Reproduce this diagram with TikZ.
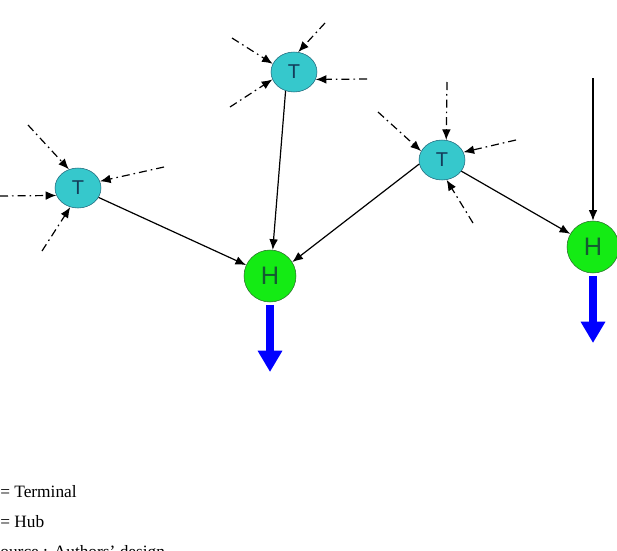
\documentclass[tikz,border=0pt]{standalone}
\usepackage{fontspec}
\setmainfont{Liberation Serif}
\newfontfamily\letterfont{Liberation Sans}
\usetikzlibrary{arrows.meta,shapes.geometric}

\definecolor{termfill}{RGB}{54,200,204}
\definecolor{termline}{RGB}{30,100,120}
\definecolor{termtext}{RGB}{20,60,90}
\definecolor{hubfill}{RGB}{20,235,20}
\definecolor{hubline}{RGB}{40,110,40}
\definecolor{hubtext}{RGB}{20,90,50}

\begin{document}
\begin{tikzpicture}[x=0.75pt,y=-0.75pt,
    terminal/.style={ellipse, draw=termline, fill=termfill, thin, inner sep=0pt,
        minimum width=34.5pt, minimum height=30pt, text=termtext, font=\letterfont\fontsize{15}{15}\selectfont},
    hub/.style={circle, draw=hubline, fill=hubfill, thin, inner sep=0pt,
        minimum size=39pt, text=hubtext, font=\letterfont\fontsize{19}{19}\selectfont},
    link/.style={draw=black, line width=0.9pt, -{Latex[length=8pt,width=6.5pt]}},
    feed/.style={draw=black, line width=0.9pt, dash pattern=on 6pt off 3pt on 1.2pt off 3pt,
        -{Latex[length=8pt,width=6.5pt]}},
    outflow/.style={draw=blue, line width=6pt, -{Triangle[length=16pt,width=17.5pt]}},
    legend/.style={anchor=base west, inner sep=0pt, font=\fontsize{13}{15}\selectfont}]
    \useasboundingbox (0,0) rectangle (617,550);

    % Hubs and terminals
    \node[terminal] (T1) at (78,188) {T};
    \node[terminal] (T2) at (294,72) {T};
    \node[terminal] (T3) at (442,160) {T};
    \node[hub] (H1) at (270,276) {H};
    \node[hub] (H2) at (593,247) {H};

    % Free ends of the incoming feeds
    \coordinate (a1) at (0,196);
    \coordinate (a2) at (28,125);
    \coordinate (a3) at (164,167);
    \coordinate (a4) at (42,251);
    \coordinate (b1) at (232,38);
    \coordinate (b2) at (325,23);
    \coordinate (b3) at (367,79);
    \coordinate (b4) at (230,107);
    \coordinate (c1) at (447,82);
    \coordinate (c2) at (378,112);
    \coordinate (c3) at (516,140);
    \coordinate (c4) at (473,223);
    \coordinate (top) at (593,78);
    \coordinate (out1) at (270,372);
    \coordinate (out2) at (593,343);

    % Feeds into the terminals
    \draw[feed] (a1) -- (T1.199);
    \draw[feed] (a2) -- (T1.116);
    \draw[feed] (a3) -- (T1.17);
    \draw[feed] (a4) -- (T1.248);
    \draw[feed] (b1) -- (T2.159);
    \draw[feed] (b2) -- (T2.78);
    \draw[feed] (b3) -- (T2.341);
    \draw[feed] (b4) -- (T2.199);
    \draw[feed] (c1) -- (T3.78);
    \draw[feed] (c2) -- (T3.157);
    \draw[feed] (c3) -- (T3.20);
    \draw[feed] (c4) -- (T3.283);

    % Links to the hubs
    \draw[link] (T1) -- (H1);
    \draw[link] (T2.246) -- (H1.84);
    \draw[link] (T3.190) -- (H1.32);
    \draw[link] (T3) -- (H2);
    \draw[link] (top) -- (H2.north);

    % Outflows
    \draw[outflow] ([yshift=-2pt]H1.south) -- (out1);
    \draw[outflow] ([yshift=-2pt]H2.south) -- (out2);

    % Legend
    \node[legend] (l1) at (0,497) {= Terminal};
    \node[legend] (l2) at (0,527) {= Hub};
    \node[legend] (l3) at (-9.5,557) {Source : Authors’ design};
\end{tikzpicture}
\end{document}
